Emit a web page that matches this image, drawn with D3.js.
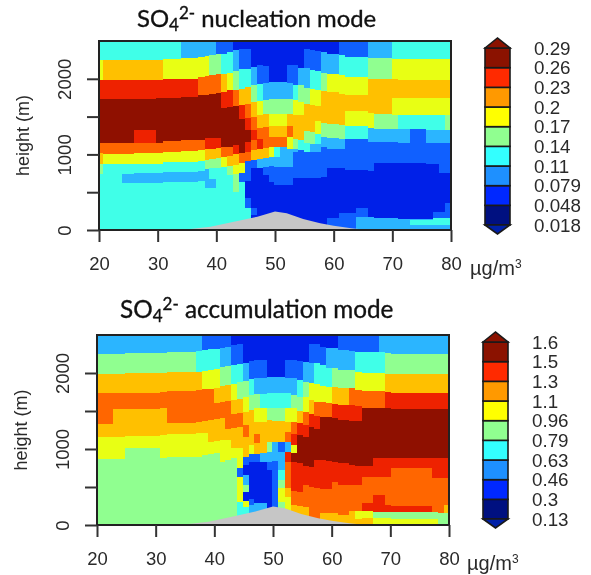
<!DOCTYPE html>
<html><head><meta charset="utf-8">
<script src="https://cdn.jsdelivr.net/npm/d3@7/dist/d3.min.js"></script>
<style>html,body{margin:0;background:#fff}svg{display:block;filter:blur(.35px)}text{font-family:"Liberation Sans",sans-serif;fill:#2a2a2a}</style>
</head><body><script>
const mapColors=["#0020e8","#1060ff","#2bb5ff","#40ffe8","#90ff90","#e8ff14","#ffc000","#ff6600","#ee2200","#8f1000"];
const legendColors=["#001080","#0028ff","#1e90ff","#33ffff","#90ff90","#ffff00","#ff9900","#ff2a00","#8b1200"];
const nuclLabels=["0.29","0.26","0.23","0.2","0.17","0.14","0.11","0.079","0.048","0.018"];
const accuLabels=["1.6","1.5","1.3","1.1","0.96","0.79","0.63","0.46","0.3","0.13"];
const xTicks=[20,30,40,50,60,70,80];
const yTicks=[0,500,1000,1500,2000];
const terrainX=[20,34,39,43,47,50,52,54.8,57.7,60,63,66,80];
const terrainH=[0,0,44,110,176,245,220,145,88,57,22,0,0];
// Column edges (deg) and, per column from the top down: class, lower height (m), class, lower height...
const nuclEdges=[20,20.7,23.9,25.9,29.8,30.9,33.9,36.9,38.1,38.8,39.9,40.8,41.9,42.9,43.9,44.9,45.9,46.9,47.9,48.9,49.9,50.8,52,53,54,55,55.9,56.9,57.9,58.9,60.9,61.9,63.8,65.9,66.9,69.9,70.9,73,75.8,77,77.9,78.9,80];
const nuclRuns=[
[3,2244,5,1989,8,1738,9,1157,7,1012,6,867,4,735,3,0],
[3,2244,6,1989,8,1738,9,1157,7,1003,5,867,3,0],
[3,2244,6,1989,8,1738,9,1157,7,1003,5,867,3,739,2,625,3,0],
[3,2244,6,1989,8,1738,9,1329,8,1157,7,1012,5,871,3,748,2,625,3,0],
[3,2244,6,1989,8,1747,9,1157,7,1012,5,871,3,748,2,625,3,0],
[3,2257,5,2002,8,1751,9,1175,7,1034,5,893,3,761,2,629,3,0],
[2,2275,5,2002,8,1760,9,1184,7,1043,5,902,3,770,2,638,3,0],
[2,2288,5,2024,7,1782,9,1192,7,1056,5,911,3,779,2,651,3,0],
[2,2297,5,2037,7,1791,9,1219,8,1065,6,924,4,801,2,550,3,0],
[2,2310,4,2055,7,1804,9,1219,8,1078,6,937,4,814,3,669,2,550,3,0],
[1,2332,4,2068,7,1817,9,1219,8,1087,6,955,4,814,3,0],
[1,2332,3,2068,6,1826,8,1615,9,1100,7,959,5,836,3,0],
[1,2354,3,2081,5,1848,8,1628,9,1100,7,981,6,845,4,726,3,0],
[0,2376,2,2099,4,1857,7,1641,9,1122,8,999,6,858,5,739,4,497,3,0],
[0,2398,1,2134,3,1870,6,1659,8,1474,9,1012,7,880,5,748,1,638,3,0],
[0,2398,1,2134,3,1892,6,1672,7,1483,8,1320,9,1166,8,1034,7,911,1,651,0,418,1,286,3,0],
[0,2156,2,1914,4,1694,6,1496,7,1329,8,1188,7,1056,6,924,1,814,0,286,1,200,0,0],
[0,2178,1,1936,3,1703,5,1518,6,1355,7,1201,8,1078,6,937,2,814,0,0],
[0,2169,1,1949,2,1725,4,1540,6,1364,7,1087,6,946,2,836,1,726,0,0],
[0,1958,2,1738,4,1540,5,1377,6,1232,7,1100,5,968,2,849,1,638,0,0],
[0,1958,2,1738,4,1540,5,1377,6,1232,7,1100,3,968,2,836,1,594,0,0],
[0,1958,2,1738,4,1540,5,1377,6,1232,7,1100,2,836,1,594,0,0],
[0,2178,1,1949,2,1738,4,1540,6,1377,7,1232,5,1078,2,836,1,594,0,0],
[0,2178,1,1923,3,1716,5,1518,6,1210,4,1078,2,1034,1,682,0,0],
[0,2147,2,1914,4,1694,5,1518,6,1188,3,1056,1,682,0,0],
[0,2398,1,2147,2,1879,4,1672,6,1307,4,1157,3,1034,1,682,0,0],
[0,2376,1,2112,3,1861,5,1650,6,1298,4,1144,2,1034,1,682,0,0],
[0,2367,1,2099,3,1848,5,1641,6,1443,5,1276,3,1131,2,1034,1,682,0,0],
[0,2354,2,2081,4,1835,6,1421,4,1232,2,1100,1,704,0,0],
[0,2332,2,2068,5,1826,6,1408,4,1219,2,1069,1,823,0,154,1,0],
[1,2310,3,2046,5,1804,6,1395,4,1210,2,1069,1,814,0,220,1,0],
[1,2288,3,2024,5,1791,6,1571,5,1377,3,1201,1,792,0,220,1,0],
[1,2288,3,2024,5,1791,6,1571,5,1377,3,1201,1,792,0,286,1,176,2,0],
[2,2275,4,2002,6,1553,5,1351,2,1166,1,779,0,176,2,0],
[2,2275,4,1993,6,1540,4,1342,2,1166,1,880,0,154,2,0],
[3,2257,5,1993,6,1751,5,1527,4,1342,2,1166,1,880,0,154,2,0],
[3,2257,5,1984,6,1751,5,1527,3,1333,2,1157,1,880,0,145,2,0],
[3,2257,5,1984,6,1751,5,1527,3,1333,1,880,0,145,2,132,3,66,2,0],
[3,2257,5,1984,6,1751,5,1527,3,1320,2,1157,1,871,0,145,2,132,3,66,2,0],
[3,2257,5,1984,6,1751,5,1527,3,1320,2,1157,1,871,0,242,1,154,3,66,2,0],
[3,2257,5,1984,6,1751,5,1527,3,1320,2,1157,1,748,0,242,1,154,3,66,2,0],
[3,2257,5,1984,6,1751,5,1527,4,1320,2,1157,1,748,0,361,1,154,3,66,2,0]
];
const accuEdges=[20,22.8,24.8,30.8,31.9,36.9,37.9,38.9,39.9,40.9,41.9,42.8,43.9,44.9,45.9,46.8,47.8,48.9,49.9,50.9,52,53.1,54.1,55.1,56.1,57,58,59,60,61,63,64,65.1,67,68,69.1,70.1,77.1,78.1,79.1,80];
const accuRuns=[
[2,2246,4,1987,6,1733,7,1329,6,1162,5,868,4,0],
[2,2250,4,1987,6,1737,7,1522,6,1162,5,868,4,0],
[2,2259,4,1996,6,1741,7,1531,6,1171,5,1009,4,0],
[2,2268,4,2004,6,1750,7,1540,6,1184,5,886,4,0],
[2,2272,4,2018,6,1768,7,1346,6,1193,5,895,4,0],
[2,2289,3,2018,6,1776,7,1360,6,1206,5,899,4,0],
[1,2303,3,2026,5,1785,7,1368,6,1206,5,921,4,0],
[1,2311,3,2039,5,1790,7,1382,6,1096,5,930,4,0],
[1,2316,3,2052,5,1798,6,1601,7,1395,6,1105,5,943,4,0],
[1,2333,2,2079,4,1829,6,1623,7,1404,6,1118,5,833,4,0],
[1,2346,2,2088,4,1842,6,1632,7,1263,6,1118,5,855,4,0],
[0,2368,1,2105,3,1851,5,1645,6,1456,7,1272,6,1009,5,877,4,0],
[0,2377,1,2114,3,1877,4,1658,6,1469,7,1294,6,1009,5,754,1,636,5,307,3,0],
[0,2127,2,1895,4,1689,5,1491,6,1316,7,1162,6,899,1,789,0,658,2,526,4,439,0,316,5,241,3,0],
[0,2158,1,1921,3,1710,4,1513,6,1053,5,930,1,825,0,342,1,263,2,0],
[0,2171,1,1930,2,1719,4,1535,5,1351,6,1193,7,1075,6,930,1,833,0,285,2,0],
[0,2171,1,1939,2,1719,3,1544,5,1360,6,943,2,833,0,285,2,0],
[0,1952,2,1732,3,1544,4,1382,6,1096,4,965,2,833,1,724,0,0],
[0,1952,2,1732,3,1544,4,1364,6,1096,2,842,1,0],
[0,1952,2,1732,3,1544,4,1364,6,1096,1,965,2,724,3,592,4,482,5,307,4,0],
[0,2171,1,1939,2,1732,3,1544,5,1351,6,1219,7,1088,2,956,8,833,7,482,6,373,5,0],
[0,2171,1,1939,2,1710,4,1535,5,1351,7,1193,8,1053,5,943,9,833,8,447,7,263,6,0],
[0,2158,1,1908,3,1689,4,1500,6,1338,8,1184,9,811,8,439,7,254,6,0],
[0,2149,2,1886,4,1680,5,1491,7,1316,8,1162,9,771,8,526,7,241,6,0],
[0,2377,1,2127,2,1864,5,1644,6,1465,8,1294,9,768,8,504,7,0],
[0,2377,1,2127,3,1851,5,1623,7,1430,8,1268,9,855,8,482,7,0],
[0,2346,1,2105,3,1829,5,1614,7,1425,9,855,8,469,7,154,6,0],
[0,2333,2,2061,3,1820,5,1601,7,1425,9,838,8,469,7,154,6,0],
[0,2324,2,2061,4,1816,6,1596,8,1404,9,833,8,570,7,154,6,0],
[1,2298,2,2035,4,1807,6,1583,8,1382,9,811,8,526,7,131,6,0],
[1,2289,2,2035,4,1798,7,1575,8,1373,9,789,8,526,7,184,6,0],
[1,2281,3,2013,5,1776,7,1566,8,1368,9,781,8,526,7,184,5,79,6,0],
[1,2281,3,2004,5,1768,7,1544,9,781,8,636,7,285,8,184,5,88,6,0],
[1,2272,3,2004,5,1763,7,1544,9,886,8,636,7,395,8,176,4,88,5,0],
[2,2272,3,2004,5,1763,7,1544,9,886,8,636,7,395,8,176,4,88,5,0],
[2,2259,4,1987,6,1750,8,1535,9,877,8,636,7,263,8,167,4,88,5,0],
[2,2250,4,1987,6,1741,8,1526,9,877,8,750,7,254,8,167,4,79,5,0],
[2,2250,4,1987,6,1741,8,1526,9,877,8,614,7,167,4,79,5,0],
[2,2250,4,1987,6,1741,8,1526,9,877,8,614,7,154,4,0],
[2,2250,4,1987,6,1741,8,1526,9,877,8,614,7,263,6,154,4,0]
];

const svg=d3.select("body").append("svg").attr("width",591).attr("height",575);
const fill=d3.scaleOrdinal().domain(d3.range(10)).range(mapColors);
const legendFill=d3.scaleOrdinal().domain(d3.range(9)).range(legendColors);

function panel(o){
  const x=d3.scaleLinear([20,80],[o.left,o.left+352]);
  const y=d3.scaleLinear([0,2500],[o.top+o.h,o.top]);
  const g=svg.append("g");
  const cells=[];
  o.runs.forEach((r,i)=>{let up=2500;for(let k=0;k<r.length;k+=2){cells.push({x0:o.edges[i],x1:o.edges[i+1],h1:up,h0:r[k+1],c:r[k]});up=r[k+1];}});
  g.selectAll("rect.cell").data(cells).join("rect").attr("class","cell")
    .attr("x",d=>x(d.x0)).attr("width",d=>x(d.x1)-x(d.x0))
    .attr("y",d=>y(d.h1)).attr("height",d=>y(d.h0)-y(d.h1))
    .attr("fill",d=>fill(d.c)).attr("shape-rendering","crispEdges");
  const area=d3.area().x(d=>x(d[0])).y0(y(0)).y1(d=>y(d[1]));
  g.append("path").attr("d",area(d3.zip(terrainX,terrainH))).attr("fill","#c6c6c6");
  g.append("rect").attr("x",o.left).attr("y",o.top).attr("width",352).attr("height",o.h)
    .attr("fill","none").attr("stroke","#222").attr("stroke-width",2);
  const ax=g.append("g").attr("transform",`translate(0,${o.top+o.h})`)
    .call(d3.axisBottom(x).tickValues(xTicks).tickSize(12).tickPadding(15).tickFormat(d3.format("d")));
  const ay=g.append("g").attr("transform",`translate(${o.left},0)`)
    .call(d3.axisLeft(y).tickValues(yTicks).tickSize(12).tickFormat(d=>d%1000===0?d:""));
  [ax,ay].forEach(a=>{a.select(".domain").remove();a.selectAll("line").attr("stroke","#333").attr("stroke-width",2);
    a.selectAll("text").attr("font-size",18.5).style("font-family",'"Liberation Sans",sans-serif').style("fill","#2a2a2a");});
  ay.selectAll(".tick text").attr("x",-34).attr("dy",".35em").attr("text-anchor","middle").attr("transform","rotate(-90 -34 0)");
  g.append("text").attr("transform",`translate(${o.leftLabel},${o.top+o.h/2}) rotate(-90)`).attr("text-anchor","middle").attr("font-size",18).text("height (m)");
  // title
  const t=g.append("text").attr("x",o.titleX).attr("y",o.titleY).style("font-family","Lato").style("fill","#111")
    .attr("stroke","#111").attr("stroke-width",.35).attr("font-size",o.titleSize);
  t.append("tspan").text("SO");
  t.append("tspan").attr("font-size",17).attr("dy",4).text("4");
  t.append("tspan").attr("font-size",17).attr("dy",-12).text("2-");
  t.append("tspan").attr("dy",8).text(" "+o.title);
  // legend: position 0 is the top edge of the bar, class 8 (dark red) is the top box
  const ly=d3.scaleLinear([0,9],[o.legY0,o.legY1]);
  const lx0=o.legX, lw=25;
  g.selectAll("rect.leg").data(d3.range(9)).join("rect").attr("class","leg")
    .attr("x",lx0).attr("width",lw).attr("y",d=>ly(8-d)).attr("height",ly(1)-ly(0)).attr("fill",d=>legendFill(d))
    .attr("stroke","#1a1a1a").attr("stroke-width",1.6);
  const tri=(yb,yt,c)=>g.append("path").attr("d",d3.line()([[lx0,yb],[lx0+lw/2,yt],[lx0+lw,yb]])+"Z").attr("fill",c).attr("stroke","#1a1a1a").attr("stroke-width",1.6);
  tri(o.legY0,o.legY0-10,legendColors[8]);
  tri(o.legY1,o.legY1+9,"#0020a8");
  g.selectAll("text.ll").data(o.labels).join("text").attr("class","ll")
    .attr("x",lx0+49).attr("y",(d,i)=>ly(i)).attr("dy",".36em").attr("font-size",18.8).text(d=>d);
  // units
  const u=g.append("text").attr("x",o.unitX).attr("y",o.unitY).attr("font-size",20);
  u.append("tspan").text("µg/m");
  u.append("tspan").attr("font-size",12).attr("dy",-7).text("3");
}
panel({left:99,top:41,h:189,leftLabel:29,legX:485,edges:nuclEdges,runs:nuclRuns,labels:nuclLabels,title:"nucleation mode",titleX:137,titleY:27,titleSize:23.9,legY0:48,legY1:225,unitX:470,unitY:275});
panel({left:97,top:335,h:190,leftLabel:27,legX:483,edges:accuEdges,runs:accuRuns,labels:accuLabels,title:"accumulation mode",titleX:120,titleY:318,titleSize:24.3,legY0:342,legY1:519,unitX:467,unitY:570});
</script></body></html>
